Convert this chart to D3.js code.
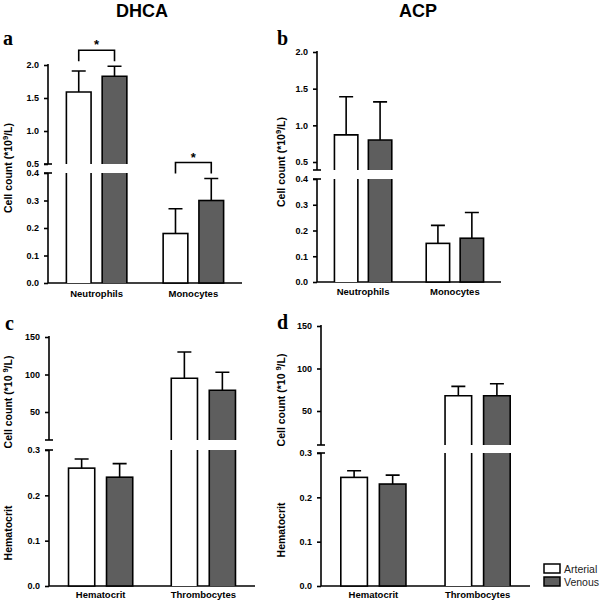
<!DOCTYPE html>
<html><head><meta charset="utf-8">
<script src="https://cdn.jsdelivr.net/npm/d3@7"></script>
<style>body{margin:0;background:#fff}svg{display:block}</style>
</head><body><svg id="c" width="600" height="603"></svg>
<script>
// ---------------- data ----------------
const seriesNames = ["Arterial", "Venous"];
const titles = ["DHCA", "ACP"];

const catsAB = ["Neutrophils", "Monocytes"];
const catsCD = ["Hematocrit", "Thrombocytes"];

const aArterial = [1.59, 0.18], aArterialSD = [0.32, 0.09];
const aVenous   = [1.83, 0.30], aVenousSD   = [0.15, 0.08];
const bArterial = [0.87, 0.15], bArterialSD = [0.52, 0.07];
const bVenous   = [0.80, 0.17], bVenousSD   = [0.52, 0.10];
const cArterial = [0.26, 95],   cArterialSD = [0.02, 35];
const cVenous   = [0.24, 79],   cVenousSD   = [0.03, 24];
const dArterial = [0.245, 68],  dArterialSD = [0.015, 11];
const dVenous   = [0.23, 68],   dVenousSD   = [0.02, 14];

const ticksABUpper = [0.5, 1.0, 1.5, 2.0];
const ticksABLower = [0.0, 0.1, 0.2, 0.3, 0.4];
const ticksCDUpper = [50, 100, 150];
const ticksCDLower = [0.0, 0.1, 0.2, 0.3];
const significant = ["Neutrophils", "Monocytes"]; // panel a only

// ---------------- layout ----------------
const GRAY = "#5e5e5e";
const svg = d3.select("#c");
const FONT = "Arial, 'Liberation Sans', sans-serif";

const panels = [
  {letter:"a", lx:3, ly:45, cats:catsAB, art:aArterial, artSD:aArterialSD, ven:aVenous, venSD:aVenousSD,
   x0:48, x1:242, up:{d:[0.5,2.0], r:[164,65], cap:164, ticks:ticksABUpper, fmt:".1f"},
   lo:{d:[0,0.4], r:[283,173], cap:173, ticks:ticksABLower, fmt:".1f"},
   ylab:[{t:"Cell count (*10", sup:"9", e:"/L)", x:12, y:168}], catY:297, sig:significant},
  {letter:"b", lx:277, ly:45, cats:catsAB, art:bArterial, artSD:bArterialSD, ven:bVenous, venSD:bVenousSD,
   x0:317, x1:501, up:{d:[0.5,2.0], r:[162,52], cap:170, ticks:ticksABUpper, fmt:".1f"},
   lo:{d:[0,0.4], r:[282,179], cap:179, ticks:ticksABLower, fmt:".1f"},
   ylab:[{t:"Cell count (*10", sup:"9", e:"/L)", x:285, y:162}], catY:295, sig:[]},
  {letter:"c", lx:5, ly:330, cats:catsCD, art:cArterial, artSD:cArterialSD, ven:cVenous, venSD:cVenousSD,
   x0:49, x1:255, up:{d:[50,150], r:[412,337], cap:440, ticks:ticksCDUpper, fmt:"d"},
   lo:{d:[0,0.3], r:[586,450], cap:450, ticks:ticksCDLower, fmt:".1f"},
   ylab:[{t:"Cell count (*10 ", sup:"9", e:"/L)", x:12, y:402}, {t:"Hematocrit", x:12, y:533}], catY:598, sig:[]},
  {letter:"d", lx:277, ly:329, cats:catsCD, art:dArterial, artSD:dArterialSD, ven:dVenous, venSD:dVenousSD,
   x0:321, x1:530, up:{d:[50,150], r:[411,326], cap:445, ticks:ticksCDUpper, fmt:"d"},
   lo:{d:[0,0.3], r:[586,453], cap:453, ticks:ticksCDLower, fmt:".1f"},
   ylab:[{t:"Cell count (*10 ", sup:"9", e:"/L)", x:285, y:400}, {t:"Hematocrit", x:285, y:530}], catY:598, sig:[]}
];

// titles
svg.append("text").attr("x",142).attr("y",17).attr("text-anchor","middle")
  .attr("font-family",FONT).attr("font-weight","bold").attr("font-size",18).text(titles[0]);
svg.append("text").attr("x",418).attr("y",17).attr("text-anchor","middle")
  .attr("font-family",FONT).attr("font-weight","bold").attr("font-size",18).text(titles[1]);

const SW = 1.6;

panels.forEach(p => {
  const g = svg.append("g");
  g.append("text").attr("x",p.lx).attr("y",p.ly).attr("font-family","'Liberation Serif', 'Times New Roman', serif")
    .attr("font-weight","bold").attr("font-size",20).text(p.letter);

  const yU = d3.scaleLinear().domain(p.up.d).range(p.up.r);
  const yL = d3.scaleLinear().domain(p.lo.d).range(p.lo.r);
  const upMin = yU.invert(p.up.cap);
  const loMax = p.lo.d[1];

  const xb = d3.scaleBand().domain(p.cats).range([p.x0, p.x1]).paddingInner(0.375).paddingOuter(0.19);
  const xs = d3.scaleBand().domain(seriesNames).range([0, xb.bandwidth()]).paddingInner(0.31);

  const axU = d3.axisLeft(yU).tickValues(p.up.ticks).tickSize(4).tickPadding(5).tickSizeOuter(0).tickFormat(d3.format(p.up.fmt));
  const axL = d3.axisLeft(yL).tickValues(p.lo.ticks).tickSize(4).tickPadding(5).tickSizeOuter(0).tickFormat(d3.format(p.lo.fmt));
  [axU, axL].forEach(ax => {
    const a = g.append("g").attr("transform",`translate(${p.x0},0)`).call(ax);
    a.select(".domain").remove();
    a.selectAll(".tick line").attr("stroke","#000").attr("stroke-width",SW);
    a.selectAll(".tick text").attr("font-family",FONT).attr("font-weight","bold").attr("font-size",9).attr("fill","#000");
  });
  const topU = yU(p.up.ticks[p.up.ticks.length-1]);
  g.append("line").attr("x1",p.x0).attr("x2",p.x0).attr("y1",topU-1).attr("y2",p.up.cap).attr("stroke","#000").attr("stroke-width",SW);
  g.append("line").attr("x1",p.x0).attr("x2",p.x0).attr("y1",p.lo.cap).attr("y2",yL(0)).attr("stroke","#000").attr("stroke-width",SW);
  [p.up.cap, p.lo.cap].forEach(cy => {
    g.append("line").attr("x1",p.x0-4).attr("x2",p.x0+4).attr("y1",cy).attr("y2",cy).attr("stroke","#000").attr("stroke-width",SW);
  });
  g.append("line").attr("x1",p.x0).attr("x2",p.x1).attr("y1",yL(0)).attr("y2",yL(0)).attr("stroke","#000").attr("stroke-width",SW);

  const rows = [];
  p.cats.forEach((c, i) => {
    rows.push({cat:c, s:seriesNames[0], v:p.art[i], sd:p.artSD[i]});
    rows.push({cat:c, s:seriesNames[1], v:p.ven[i], sd:p.venSD[i]});
  });
  rows.forEach(r => {
    const x = xb(r.cat) + xs(r.s), w = xs.bandwidth();
    const fill = r.s === "Arterial" ? "#fff" : GRAY;
    const base = yL(0);
    let topY, errY;
    if (r.v <= loMax) {
      topY = yL(r.v); errY = yL(r.v + r.sd);
      g.append("rect").attr("x",x).attr("y",topY).attr("width",w).attr("height",base-topY)
        .attr("fill",fill).attr("stroke","#000").attr("stroke-width",SW);
    } else {
      const lt = p.lo.cap;
      g.append("rect").attr("x",x).attr("y",lt).attr("width",w).attr("height",base-lt).attr("fill",fill);
      g.append("path").attr("d",`M${x},${lt}V${base}M${x+w},${lt}V${base}`).attr("stroke","#000").attr("stroke-width",SW).attr("fill","none");
      if (r.v > upMin) {
        topY = yU(r.v); errY = yU(r.v + r.sd);
        const ub = p.up.cap;
        g.append("rect").attr("x",x).attr("y",topY).attr("width",w).attr("height",ub-topY).attr("fill",fill);
        g.append("path").attr("d",`M${x},${ub}V${topY}H${x+w}V${ub}`).attr("stroke","#000").attr("stroke-width",SW).attr("fill","none");
      }
    }
    r.cx = x + w/2; r.errY = errY;
    g.append("path").attr("d",`M${r.cx},${topY}V${errY}M${r.cx-7},${errY}H${r.cx+7}`)
      .attr("stroke","#000").attr("stroke-width",SW).attr("fill","none");
  });

  p.sig.forEach(c => {
    const pr = rows.filter(r => r.cat === c);
    const ty = Math.min(pr[0].errY, pr[1].errY);
    const by = ty - 16, ly = ty - 5;
    g.append("path").attr("d",`M${pr[0].cx},${ly}V${by}H${pr[1].cx}V${ly}`)
      .attr("stroke","#000").attr("stroke-width",SW).attr("fill","none");
    g.append("text").attr("x",(pr[0].cx+pr[1].cx)/2).attr("y",by-1).attr("text-anchor","middle")
      .attr("font-family",FONT).attr("font-weight","bold").attr("font-size",13).text("*");
  });

  p.cats.forEach(c => {
    g.append("text").attr("x",xb(c)+xb.bandwidth()/2).attr("y",p.catY).attr("text-anchor","middle")
      .attr("font-family",FONT).attr("font-weight","bold").attr("font-size",9.5).text(c);
  });

  p.ylab.forEach(l => {
    const t = g.append("text").attr("transform",`translate(${l.x},${l.y}) rotate(-90)`).attr("text-anchor","middle")
      .attr("font-family",FONT).attr("font-weight","bold").attr("font-size",10.5);
    t.append("tspan").text(l.t);
    if (l.sup) {
      t.append("tspan").attr("dy",-4).attr("font-size",7.5).text(l.sup);
      t.append("tspan").attr("dy",4).text(l.e);
    }
  });
});

// legend
const lg = svg.append("g");
seriesNames.forEach((s, i) => {
  lg.append("rect").attr("x",544).attr("y",564 + i*13).attr("width",16).attr("height",9)
    .attr("fill", i === 0 ? "#fff" : GRAY).attr("stroke","#000").attr("stroke-width",1.5);
  lg.append("text").attr("x",564).attr("y",572.5 + i*13).attr("font-family",FONT).attr("font-size",10.5)
    .attr("fill","#222").text(s);
});
</script></body></html>
